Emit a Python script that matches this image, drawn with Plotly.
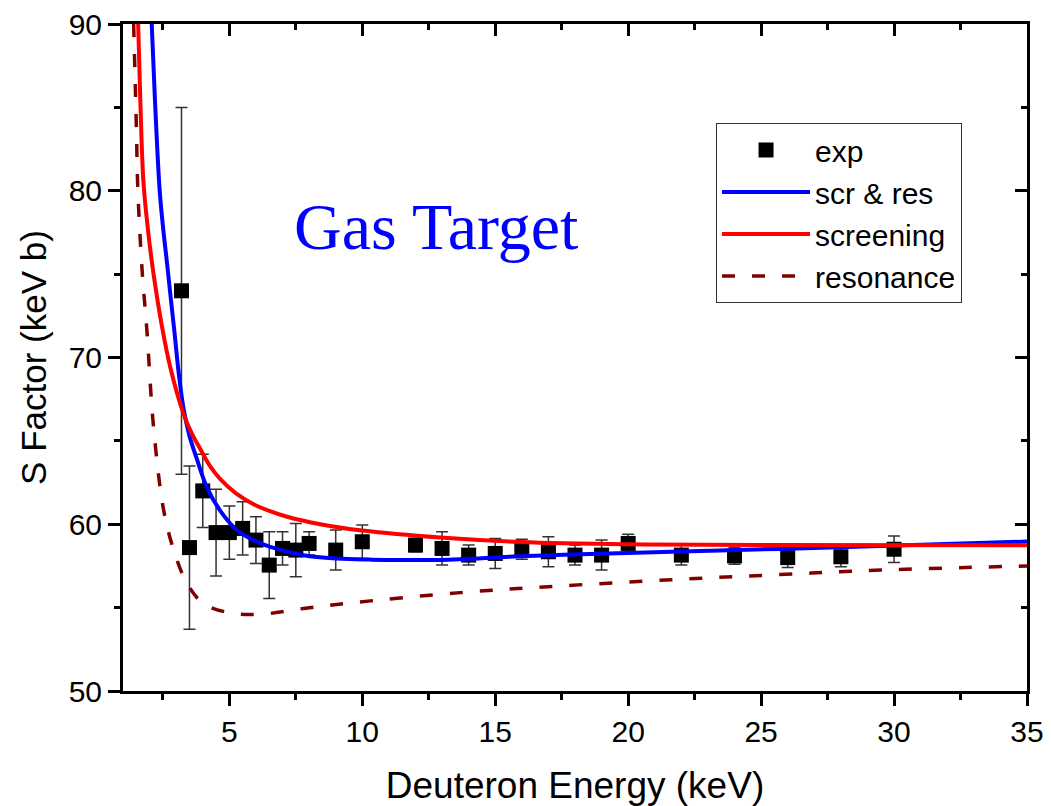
import plotly.graph_objects as go

# Experimental data
exp_E = [3.2, 3.5, 4, 4.5, 5, 5.5, 6, 6.5, 7, 7.5, 8, 9, 10, 12, 13, 14, 15, 16, 17, 18, 19, 20, 22, 24, 26, 28, 30]
exp_S = [74.0, 58.6, 62.0, 59.5, 59.5, 59.75, 59.05, 57.55, 58.55, 58.45, 58.85, 58.45, 58.95, 58.75, 58.55,
         58.15, 58.25, 58.5, 58.35, 58.15, 58.15, 58.85, 58.15, 58.1, 58.0, 58.05, 58.5]
exp_err = [11.0, 4.9, 2.2, 2.6, 1.6, 1.6, 1.4, 2.0, 1.0, 1.6, 0.7, 1.2, 1.0, 0.4, 1.0, 0.6, 0.9, 0.6, 0.9,
           0.6, 0.9, 0.55, 0.6, 0.5, 0.6, 0.6, 0.8]

# scr & res curve
sr_E = [2.08, 2.2, 2.38, 2.52, 2.66, 2.8, 2.93, 3.1, 3.28, 3.5, 3.78, 4.16, 4.66, 5.29, 5.9, 6.54, 7.79,
        9.05, 10.3, 12.93, 15.94, 19.95, 22.7, 25.7, 29.5, 35]
sr_S = [90.0, 85.5, 80.0, 77.6, 75.6, 73.5, 71.6, 69.0, 66.9, 65.3, 63.9, 62.2, 60.8, 59.64, 59.05, 58.64,
        58.14, 57.94, 57.88, 57.86, 58.08, 58.28, 58.4, 58.52, 58.7, 58.96]

# screening curve
sc_E = [1.57, 1.65, 1.77, 1.95, 2.15, 2.45, 2.78, 3.28, 3.6, 3.91, 4.25, 4.66, 5.25, 5.91, 6.5, 7.17, 8.42,
        10.0, 12.93, 15.94, 19.95, 25.0, 35.0]
sc_S = [90.0, 85.5, 80.5, 77.5, 75.0, 72.0, 69.4, 66.6, 65.4, 64.5, 63.55, 62.7, 61.85, 61.2, 60.8, 60.45,
        60.0, 59.62, 59.2, 58.94, 58.8, 58.75, 58.74]

# resonance curve
rs_E = [1.4, 1.5, 1.56, 1.72, 1.9, 2.15, 2.53, 2.91, 3.41, 4.03, 5.04, 6.17, 7.79, 9.67, 13.68, 17.44,
        21.95, 25.7, 29.5, 35.0]
rs_S = [90.0, 84.0, 80.0, 75.2, 71.6, 65.8, 60.84, 58.44, 56.45, 55.24, 54.68, 54.6, 54.95, 55.3, 55.9,
        56.3, 56.7, 56.98, 57.25, 57.5]

x_range = [1, 35]
y_range = [50, 90]

fig = go.Figure()

fig.add_trace(go.Scatter(
    x=exp_E, y=exp_S, mode="markers", name="exp",
    marker=dict(symbol="square", size=15, color="black"),
    error_y=dict(type="data", array=exp_err, visible=True, color="#333333", thickness=1.5, width=6),
))
fig.add_trace(go.Scatter(
    x=sr_E, y=sr_S, mode="lines", name="scr & res",
    line=dict(color="#0000ff", width=4, shape="spline", smoothing=1.0),
))
fig.add_trace(go.Scatter(
    x=sc_E, y=sc_S, mode="lines", name="screening",
    line=dict(color="#ff0000", width=4, shape="spline", smoothing=1.0),
))
fig.add_trace(go.Scatter(
    x=rs_E, y=rs_S, mode="lines", name="resonance",
    line=dict(color="#800000", width=3.5, dash="13px,17px", shape="spline", smoothing=1.0),
))
# invisible trace to activate the mirrored (inside-tick) axes
fig.add_trace(go.Scatter(x=[None], y=[None], xaxis="x2", yaxis="y2", showlegend=False, hoverinfo="skip"))

axis_font = dict(family="Liberation Sans, Arial", size=30, color="black")
title_font = dict(family="Liberation Sans, Arial", size=37, color="black")

fig.update_layout(
    width=1051, height=806,
    margin=dict(l=123, r=24, t=24, b=115, autoexpand=False),
    paper_bgcolor="white", plot_bgcolor="white",
    showlegend=True,
    legend=dict(
        x=0.656, y=0.8516, xanchor="left", yanchor="top",
        bgcolor="white", bordercolor="#333333", borderwidth=1,
        font=dict(family="Liberation Sans, Arial", size=30, color="black"),
        itemwidth=88, tracegroupgap=0,
    ),
    xaxis=dict(
        range=x_range, tick0=0, dtick=5, ticks="outside", ticklen=12, tickwidth=2.5, tickcolor="black",
        minor=dict(dtick=2.5, tick0=0, ticks="outside", ticklen=6, tickwidth=2.5, tickcolor="black"),
        showline=True, linecolor="black", linewidth=3, mirror=True, showgrid=False, zeroline=False,
        tickfont=axis_font, automargin=False,
        title=dict(text="Deuteron Energy (keV)", font=title_font, standoff=26),
    ),
    yaxis=dict(
        range=y_range, tick0=0, dtick=10, ticks="outside", ticklen=12, tickwidth=2.5, tickcolor="black",
        minor=dict(dtick=5, tick0=0, ticks="outside", ticklen=6, tickwidth=2.5, tickcolor="black"),
        showline=True, linecolor="black", linewidth=3, mirror=True, showgrid=False, zeroline=False,
        tickfont=axis_font, automargin=False,
        title=dict(text="S Factor (keV b)", font=dict(family="Liberation Sans, Arial", size=35, color="black"),
                   standoff=12),
    ),
    xaxis2=dict(
        range=x_range, overlaying="x", side="top", anchor="y2", tick0=0, dtick=5, ticks="inside", ticklen=12,
        tickwidth=2.5, tickcolor="black", showticklabels=False, showgrid=False, zeroline=False, showline=False,
        automargin=False,
        minor=dict(dtick=2.5, tick0=0, ticks="inside", ticklen=6, tickwidth=2.5, tickcolor="black"),
    ),
    yaxis2=dict(
        range=y_range, overlaying="y", side="right", anchor="x2", tick0=0, dtick=10, ticks="inside", ticklen=12,
        tickwidth=2.5, tickcolor="black", showticklabels=False, showgrid=False, zeroline=False, showline=False,
        automargin=False,
        minor=dict(dtick=5, tick0=0, ticks="inside", ticklen=6, tickwidth=2.5, tickcolor="black"),
    ),
    annotations=[dict(
        text="Gas Target", x=0.346, y=0.697, xref="paper", yref="paper", showarrow=False,
        xanchor="center", yanchor="middle",
        font=dict(family="Liberation Serif, Times New Roman", size=66, color="#0000ff"),
    )],
)

fig.write_html("out.html")
